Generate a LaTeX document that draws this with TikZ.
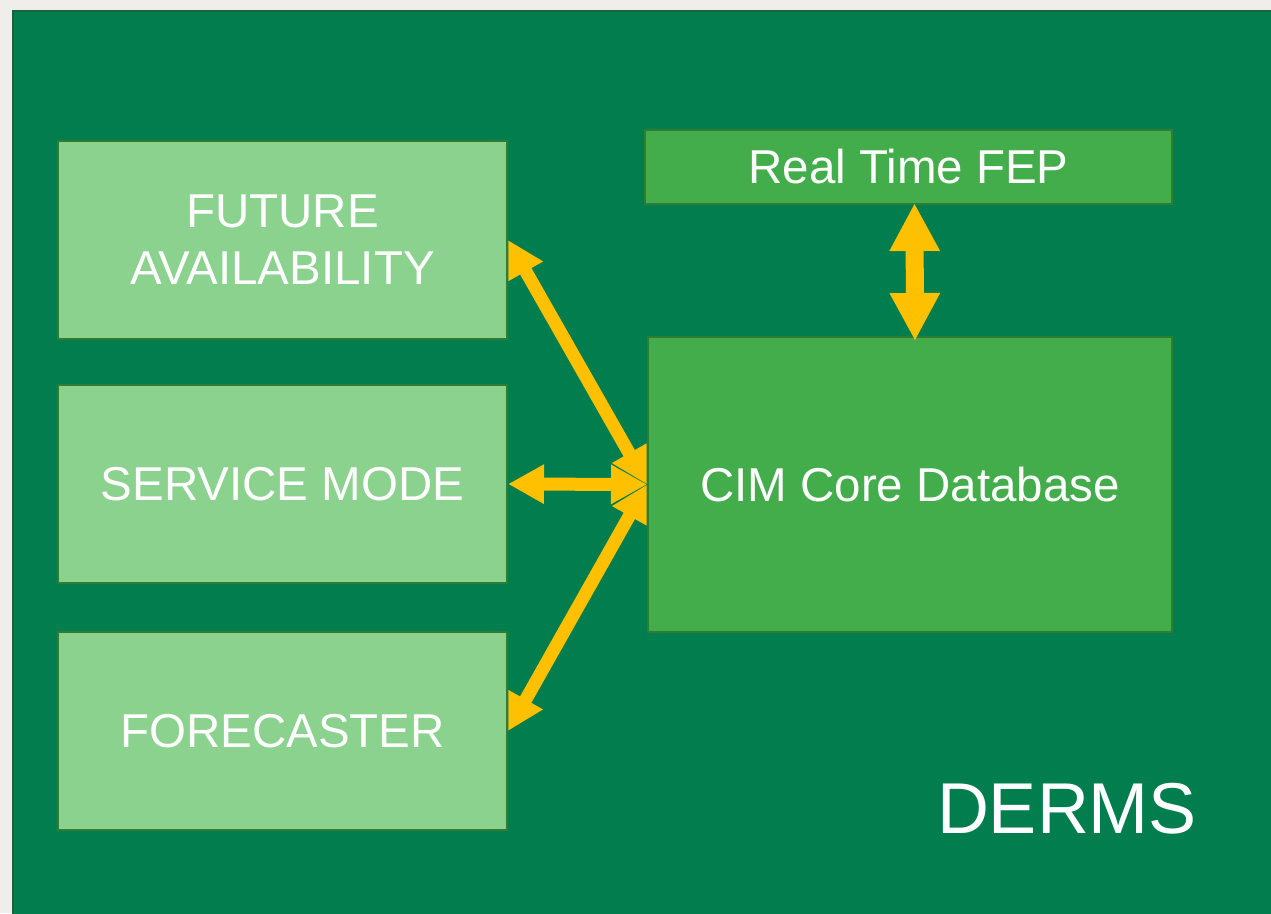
\documentclass[tikz,border=0pt]{standalone}
\usepackage{fontspec}
\setmainfont{Liberation Sans}
\usetikzlibrary{arrows.meta}

\definecolor{pagebg}{RGB}{240,238,235}
\definecolor{dermsgreen}{RGB}{1,125,78}
\definecolor{dermsedge}{RGB}{24,98,62}
\definecolor{lightbox}{RGB}{138,210,142}
\definecolor{midbox}{RGB}{66,173,74}
\definecolor{boxedge}{RGB}{48,124,52}
\definecolor{linkyellow}{RGB}{255,192,0}

\tikzset{
  module/.style={draw=boxedge, line width=2pt, fill=lightbox, text=white,
    align=center, inner sep=0pt,
    minimum width=449pt, minimum height=198pt,
    font=\fontsize{47.5}{57}\selectfont},
  core/.style={draw=boxedge, line width=2pt, fill=midbox, text=white,
    align=center, inner sep=0pt,
    font=\fontsize{47.5}{57}\selectfont},
  link/.style={linkyellow, line width=13pt,
    {Triangle[width=37pt,length=36pt]}-{Triangle[width=37pt,length=36pt]}},
  biglink/.style={linkyellow, line width=18pt,
    {Triangle[width=47pt,length=48pt]}-{Triangle[width=47pt,length=48pt]}},
}

\begin{document}
\begin{tikzpicture}[x=1pt,y=-1pt]
  \useasboundingbox (0,0) rectangle (1271,913);
  \fill[pagebg] (0,0) rectangle (1271,913);

  % DERMS system frame, running off the right and bottom edges
  \begin{scope}
    \clip (0,0) rectangle (1271,913);
    \draw[dermsedge, line width=2pt, fill=dermsgreen] (13,11) rectangle (1285,930);
  \end{scope}

  % application modules
  \node[module] (FA) at (282.5,240) {FUTURE\\AVAILABILITY};
  \node[module] (SM) at (282.5,484) {SERVICE MODE};
  \node[module] (FC) at (282.5,731) {FORECASTER};

  % core components
  \node[core, minimum width=527pt, minimum height=74pt] (FEP) at (908.5,167) {Real Time FEP};
  \node[core, minimum width=524pt, minimum height=295pt] (CIM) at (910,484.5) {CIM Core Database};

  % data exchange links
  \draw[link] (FA.east) -- (CIM.west);
  \draw[link] (SM.east) -- (CIM.west);
  \draw[link] (FC.east) -- (CIM.west);
  \draw[biglink] ([xshift=6pt,yshift=2pt]FEP.south) -- ([xshift=5pt,yshift=-5pt]CIM.north);

  % system label
  \node[text=white, anchor=base, inner sep=0pt, font=\fontsize{72}{86}\selectfont] (DERMS) at (1067,833) {DERMS};
\end{tikzpicture}
\end{document}
